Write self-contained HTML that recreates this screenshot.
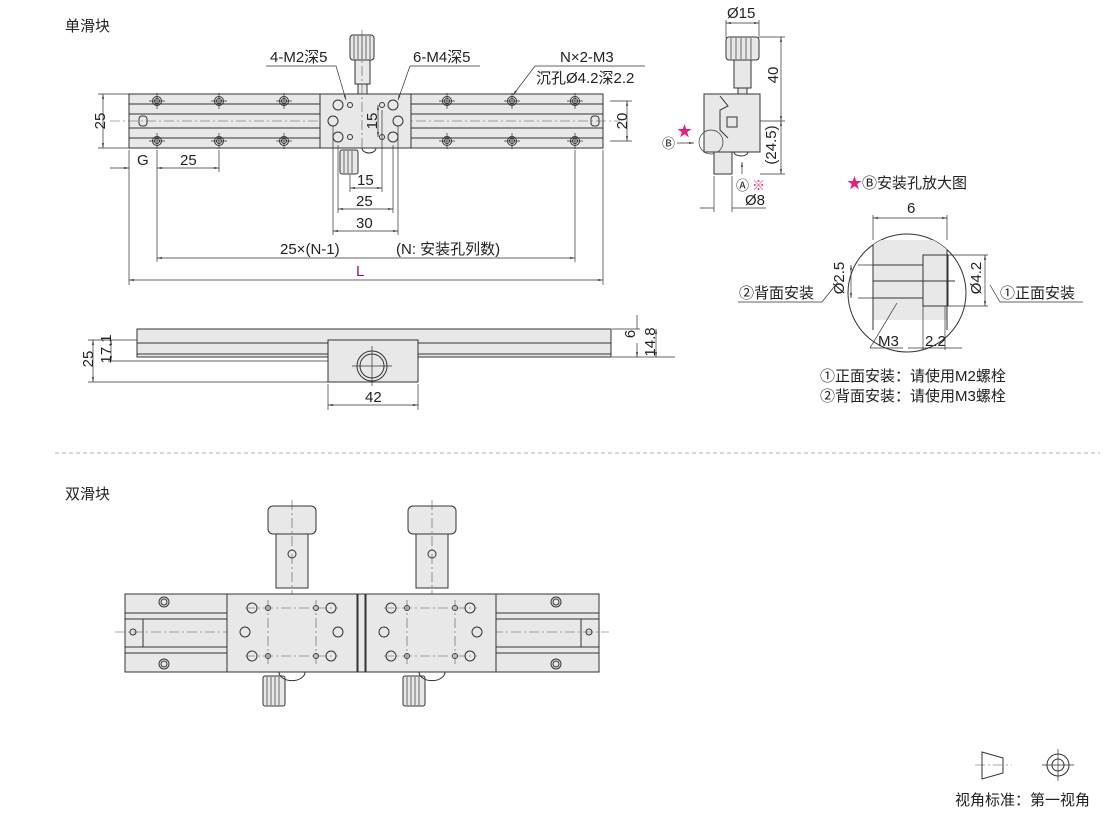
<!DOCTYPE html>
<html><head><meta charset="utf-8"><style>
body{margin:0;background:#fff;}
svg{display:block;font-family:"Liberation Sans","Noto Sans CJK SC",sans-serif;}
.l{stroke:#333;stroke-width:1;fill:none}
.b{stroke:#333;stroke-width:1;fill:#e8e8e8}
.d{stroke:#333;stroke-width:0.7;fill:none}
.c{stroke:#555;stroke-width:0.6;stroke-dasharray:10 3 2 3;fill:none}
text{font-size:15px;fill:#222}
</style></head><body>
<svg width="1110" height="815" viewBox="0 0 1110 815">
<defs>
<marker id="a" viewBox="0 0 10 10" refX="10" refY="5" markerWidth="7" markerHeight="7" orient="auto-start-reverse"><path d="M0,3L10,5L0,7z" fill="#333"/></marker>
<g id="hole"><circle r="4.5" class="l"/><circle r="2.5" class="l"/><path d="M-8,0H8M0,-8V8" class="d"/></g>
</defs>
<text x="65" y="31">单滑块</text>
<!-- top view -->
<rect x="129" y="94" width="474" height="54" class="b"/>
<path d="M129,104H603M129,114H603M129,128H603M129,138H603" class="l"/>
<rect x="139" y="116" width="8" height="10" rx="3" class="l"/>
<rect x="591" y="116" width="8" height="10" rx="3" class="l"/>
<path d="M110,121H620" class="c"/>
<use href="#hole" x="157" y="101"/><use href="#hole" x="219" y="101"/><use href="#hole" x="284" y="101"/>
<use href="#hole" x="447" y="101"/><use href="#hole" x="512" y="101"/><use href="#hole" x="575" y="101"/>
<use href="#hole" x="157" y="141"/><use href="#hole" x="219" y="141"/><use href="#hole" x="284" y="141"/>
<use href="#hole" x="447" y="141"/><use href="#hole" x="512" y="141"/><use href="#hole" x="575" y="141"/>
<rect x="320" y="94" width="91" height="54" class="b"/>
<g class="l"><circle cx="338" cy="105" r="5"/><circle cx="393" cy="105" r="5"/><circle cx="333" cy="121" r="5"/><circle cx="398" cy="121" r="5"/><circle cx="338" cy="137" r="5"/><circle cx="393" cy="137" r="5"/>
<circle cx="350" cy="105" r="2.5"/><circle cx="382" cy="105" r="2.5"/><circle cx="350" cy="137" r="2.5"/><circle cx="382" cy="137" r="2.5"/></g>
<rect x="350" y="35" width="24" height="25" rx="3" class="b"/>
<path d="M354,36V59M358,36V59M362,36V59M366,36V59M370,36V59" class="d"/>
<rect x="355" y="60" width="15" height="24" class="b"/><rect x="358" y="84" width="9" height="10" class="b"/>
<path d="M362,30V150" class="c"/>
<rect x="340" y="150" width="18" height="24" rx="2" class="b"/>
<path d="M344,151V173M348,151V173M352,151V173" class="d"/>
<path d="M362,148a7,5 0 0 0 14,0" class="l"/>
<!-- leaders -->
<path d="M266,66H336L346,100" class="d" marker-end="url(#a)"/><text x="270" y="62">4-M2深5</text>
<path d="M480,66H410L398,100" class="d" marker-end="url(#a)"/><text x="413" y="62">6-M4深5</text>
<path d="M645,66H535L513,95" class="d" marker-end="url(#a)"/><text x="560" y="62">N×2-M3</text><text x="536" y="83">沉孔Ø4.2深2.2</text>
<!-- dims -->
<path d="M103,94V148" class="d" marker-start="url(#a)" marker-end="url(#a)"/><path d="M98,94H129M98,148H129" class="d"/>
<text x="100" y="126" transform="rotate(-90 100 121)" text-anchor="middle">25</text>
<path d="M610,101H632M610,141H632" class="d"/><path d="M627,101V141" class="d" marker-start="url(#a)" marker-end="url(#a)"/>
<text x="622" y="126" transform="rotate(-90 622 121)" text-anchor="middle">20</text>
<path d="M378,105V137" class="d" marker-start="url(#a)" marker-end="url(#a)"/><text x="372" y="126" transform="rotate(-90 372 121)" text-anchor="middle">15</text>
<path d="M129,150V285M603,150V285M157,150V262M219,150V172M575,150V262" class="d"/>
<path d="M110,168H129" class="d" marker-end="url(#a)"/><path d="M157,168H219" class="d" marker-start="url(#a)" marker-end="url(#a)"/>
<text x="137" y="165">G</text><text x="180" y="165">25</text>
<path d="M350,175V192M382,110V192M338,145V213M393,145V213M333,126V235M398,126V235" class="d"/>
<path d="M350,188H382" class="d" marker-start="url(#a)" marker-end="url(#a)"/><text x="357" y="185">15</text>
<path d="M338,209H393" class="d" marker-start="url(#a)" marker-end="url(#a)"/><text x="356" y="206">25</text>
<path d="M333,231H398" class="d" marker-start="url(#a)" marker-end="url(#a)"/><text x="356" y="228">30</text>
<path d="M157,258H575" class="d" marker-start="url(#a)" marker-end="url(#a)"/><text x="280" y="254">25×(N-1)</text><text x="396" y="254">(N: 安装孔列数)</text>
<path d="M129,280H603" class="d" marker-start="url(#a)" marker-end="url(#a)"/><text x="356" y="276" style="fill:#8a1a6a">L</text>
<!-- side view -->
<rect x="137" y="329" width="474" height="28" class="b"/><path d="M137,343H611M137,354H611" class="l"/>
<rect x="328" y="340" width="90" height="42" class="b"/>
<circle cx="372" cy="366" r="15" class="l"/><circle cx="372" cy="366" r="12" class="l"/><path d="M352,366H392M372,346V386" class="d"/>
<path d="M88,382H328M108,361H328M612,329H640M612,357H675M88,340H137" class="d"/>
<path d="M93,340V382" class="d" marker-start="url(#a)" marker-end="url(#a)"/><text x="90" y="366" transform="rotate(-90 88 361)" text-anchor="middle">25</text>
<path d="M111,340V361" class="d" marker-start="url(#a)" marker-end="url(#a)"/><text x="108" y="356" transform="rotate(-90 106 351)" text-anchor="middle">17.1</text>
<path d="M637,315V329M637,343V357" class="d" marker-end="url(#a)"/><text x="632" y="341" transform="rotate(-90 630 336)" text-anchor="middle">6</text>
<path d="M656,329V357" class="d" marker-start="url(#a)" marker-end="url(#a)"/><text x="652" y="347" transform="rotate(-90 651 343)" text-anchor="middle">14.8</text>
<path d="M328,384V410M418,384V410" class="d"/><path d="M328,405H418" class="d" marker-start="url(#a)" marker-end="url(#a)"/><text x="365" y="402">42</text>
<!-- right view -->
<text x="727" y="18">Ø15</text><path d="M726,23H759" class="d" marker-start="url(#a)" marker-end="url(#a)"/><path d="M726,20V38M759,20V38" class="d"/>
<rect x="726" y="37" width="33" height="23" rx="3" class="b"/><path d="M731,38V59M736,38V59M741,38V59M746,38V59M751,38V59" class="d"/>
<rect x="734" y="60" width="17" height="28" class="b"/><rect x="738" y="88" width="9" height="6" class="b"/>
<rect x="704" y="94" width="56" height="58" class="b"/>
<path d="M720,96L728,106L720,110V130L728,138" class="l"/><rect x="727" y="117" width="10" height="10" class="l"/>
<circle cx="711" cy="142" r="12" class="d"/>
<rect x="714" y="152" width="18" height="22" class="b"/><path d="M734,152a7,4 0 0 0 14,0" class="l"/>
<path d="M760,37H785M760,121H785M760,174H785" class="d"/>
<path d="M781,37V121" class="d" marker-start="url(#a)" marker-end="url(#a)"/><text x="777" y="84" transform="rotate(-90 773 79)" text-anchor="middle">40</text>
<path d="M781,121V174" class="d" marker-start="url(#a)" marker-end="url(#a)"/><text x="773" y="152" transform="rotate(-90 771 147)" text-anchor="middle">(24.5)</text>
<path d="M742,174V162" class="d" marker-end="url(#a)"/><text x="736" y="190" style="font-size:13px">Ⓐ</text><text x="752" y="190" style="font-size:13px;fill:#e0207a">※</text>
<path d="M714,176V212M732,176V212" class="d"/><path d="M700,208H714M732,208H766" class="d"/><text x="745" y="205">Ø8</text>
<text x="662" y="148" style="font-size:13px">Ⓑ</text><path d="M677,143H694" class="d" marker-end="url(#a)"/><text x="677" y="136" style="fill:#e0207a">★</text>
<!-- enlarged -->
<text x="847" y="188"><tspan style="fill:#e0207a">★</tspan>Ⓑ安装孔放大图</text>
<text x="907" y="213">6</text><path d="M873,218H947" class="d" marker-start="url(#a)" marker-end="url(#a)"/><path d="M873,215V240M947,215V240" class="d"/>
<clipPath id="cc"><circle cx="907" cy="293" r="59"/></clipPath>
<circle cx="907" cy="293" r="59" class="l"/>
<g clip-path="url(#cc)"><rect x="873" y="240" width="74" height="80" fill="#e8e8e8"/>
<path d="M873,265H923M873,298H923M873,281H955" class="l"/><rect x="923" y="255" width="25" height="51" class="l" fill="#e8e8e8"/>
<path d="M873,230V330M947,230V330" class="l"/></g>
<path d="M858,265H873M858,298H873" class="d"/><path d="M851,265V298" class="d" marker-start="url(#a)" marker-end="url(#a)"/>
<text x="846" y="282" transform="rotate(-90 843 281)" text-anchor="middle">Ø2.5</text>
<path d="M948,255H988M948,306H988" class="d"/><path d="M985,255V306" class="d" marker-start="url(#a)" marker-end="url(#a)"/>
<text x="979" y="286" transform="rotate(-90 976 281)" text-anchor="middle">Ø4.2</text>
<path d="M738,302H822L838,282" class="d"/><text x="739" y="298">②背面安装</text>
<path d="M1083,302H1000L990,285" class="d"/><text x="1000" y="298">①正面安装</text>
<path d="M870,348L897,303" class="d"/><path d="M870,348H903" class="d"/><text x="878" y="346">M3</text>
<path d="M923,306V350M945,306V350" class="d"/><path d="M908,348H923M945,348H962" class="d"/><path d="M923,348H945" class="d"/><text x="925" y="346">2.2</text>
<text x="820" y="381">①正面安装：请使用M2螺栓</text>
<text x="820" y="401">②背面安装：请使用M3螺栓</text>
<path d="M55,453H1100" stroke="#999" stroke-width="0.8" stroke-dasharray="4 3"/>
<!-- double -->
<text x="65" y="499">双滑块</text>
<g id="dk"><rect x="268" y="506" width="48" height="28" rx="5" class="b"/><rect x="276" y="534" width="32" height="54" class="b"/><circle cx="292" cy="554" r="4" class="l"/><path d="M292,500V600" class="c"/>
<rect x="263" y="676" width="22" height="30" rx="2" class="b"/><path d="M267,677V705M271,677V705M275,677V705M279,677V705" class="d"/><path d="M279,672a12,8 0 0 0 26,0" class="l"/></g>
<use href="#dk" x="140"/>
<rect x="125" y="594" width="474" height="78" class="b"/>
<path d="M125,613H599M125,619H599M125,647H599M125,653H599" class="l"/>
<rect x="125" y="619" width="18" height="28" class="l"/><rect x="581" y="619" width="18" height="28" class="l"/>
<path d="M115,632H609" class="c"/>
<g class="l"><circle cx="164" cy="602" r="5"/><circle cx="164" cy="602" r="3"/><circle cx="164" cy="664" r="5"/><circle cx="164" cy="664" r="3"/><circle cx="556" cy="602" r="5"/><circle cx="556" cy="602" r="3"/><circle cx="556" cy="664" r="5"/><circle cx="556" cy="664" r="3"/><circle cx="133" cy="632" r="3"/><circle cx="589" cy="632" r="3"/></g>
<g id="cr"><rect x="227" y="594" width="130" height="78" class="b"/>
<g class="l"><circle cx="252" cy="608" r="5"/><circle cx="331" cy="608" r="5"/><circle cx="245" cy="632" r="5"/><circle cx="338" cy="632" r="5"/><circle cx="252" cy="656" r="5"/><circle cx="331" cy="656" r="5"/><circle cx="268" cy="608" r="2.5"/><circle cx="316" cy="608" r="2.5"/><circle cx="268" cy="656" r="2.5"/><circle cx="316" cy="656" r="2.5"/></g>
<path d="M245,608H338M245,656H338M268,600V664M316,600V664" class="c"/></g>
<use href="#cr" x="139"/>
<rect x="358" y="594" width="7" height="78" class="b"/>
<!-- view symbol -->
<path d="M982,752L1003,758V773L982,779Z" class="l"/><path d="M975,765H1012" class="c"/>
<circle cx="1058" cy="765" r="11" class="l"/><circle cx="1058" cy="765" r="6" class="l"/><path d="M1042,765H1074M1058,749V781" class="d"/>
<text x="955" y="805">视角标准：第一视角</text>
</svg>
</body></html>
